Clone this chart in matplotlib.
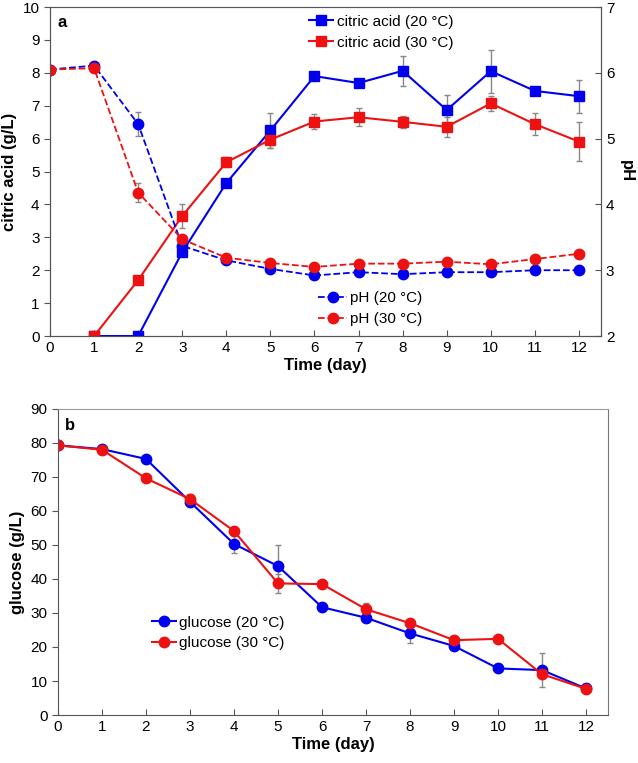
import numpy as np
import matplotlib.pyplot as plt

plt.rcParams['font.family'] = ['Liberation Sans', 'DejaVu Sans']

days = np.arange(0, 13)
days_ca = np.arange(1, 13)

# citric acid (g/L), day 1..12
ca20 = [0, 0, 2.55, 4.65, 6.25, 7.9, 7.69, 8.06, 6.87, 8.05, 7.45, 7.29]
ca20_err = [0, 0, 0, 0.1, 0.54, 0.1, 0, 0.45, 0.46, 0.65, 0, 0.5]
ca30 = [0, 1.7, 3.65, 5.28, 5.97, 6.52, 6.65, 6.51, 6.36, 7.07, 6.44, 5.91]
ca30_err = [0, 0, 0.36, 0.15, 0.25, 0.22, 0.27, 0.18, 0.3, 0.24, 0.34, 0.59]

# pH, day 0..12
ph20 = [6.05, 6.11, 5.22, 3.37, 3.15, 3.02, 2.92, 2.97, 2.94, 2.97, 2.97, 3.0, 3.0]
ph20_err = [0, 0, 0.18, 0, 0, 0, 0, 0, 0, 0, 0, 0, 0]
ph30 = [6.05, 6.07, 4.18, 3.47, 3.19, 3.11, 3.05, 3.10, 3.10, 3.13, 3.09, 3.17, 3.25]
ph30_err = [0, 0, 0.15, 0, 0, 0, 0, 0, 0, 0, 0, 0, 0]

# glucose (g/L), day 0..12
gl20 = [79.3, 78.2, 75.3, 62.7, 50.3, 43.8, 31.7, 28.6, 24.0, 20.3, 13.7, 13.2, 7.8]
gl20_err = [0, 0, 0, 0, 2.8, 6.3, 0, 0, 2.9, 0, 0, 5.0, 0]
gl30 = [79.3, 78.0, 69.6, 63.5, 54.1, 38.7, 38.5, 31.1, 27.0, 22.0, 22.4, 12.0, 7.7]
gl30_err = [0, 0, 0, 1.5, 0, 2.7, 0, 1.7, 0, 0, 0, 0, 0]

labels_ca = ['citric acid (20 °C)', 'citric acid (30 °C)']
labels_ph = ['pH (20 °C)', 'pH (30 °C)']
labels_gl = ['glucose (20 °C)', 'glucose (30 °C)']

blue = '#0000ee'
red = '#ee1111'
ecol = '#888888'
spc = '#555555'

fig = plt.figure(figsize=(6.38, 7.63), dpi=100)

# ---- panel a ----
ax = fig.add_axes([0.0784, 0.5596, 0.8636, 0.4312])
ax2 = ax.twinx()

l1 = ax.errorbar(days_ca, ca20, yerr=ca20_err, color=blue, marker='s', ms=7, lw=1.5,
                 ecolor=ecol, elinewidth=1, capsize=2, zorder=3)
l2 = ax.errorbar(days_ca, ca30, yerr=ca30_err, color=red, marker='s', ms=7, lw=1.5,
                 ecolor=ecol, elinewidth=1, capsize=2, zorder=3)
l3 = ax2.errorbar(days, ph20, yerr=ph20_err, color=blue, marker='o', ms=7.5, lw=1.3, ls='--',
                  ecolor=ecol, elinewidth=1, capsize=2)
l4 = ax2.errorbar(days, ph30, yerr=ph30_err, color=red, marker='o', ms=7.5, lw=1.3, ls='--',
                  ecolor=ecol, elinewidth=1, capsize=2)

ax.set_xlim(0, 12.5)
ax.set_ylim(0, 10)
ax2.set_ylim(2, 7)
ax.set_xticks(range(0, 13))
ax.set_yticks(range(0, 11))
ax2.set_yticks(range(2, 8))
ax.set_xlabel('Time (day)', fontsize=12, fontweight='bold', labelpad=2)
ax.set_ylabel('citric acid (g/L)', fontsize=12, fontweight='bold', labelpad=4)
ax2.set_ylabel('pH', fontsize=12, fontweight='bold', rotation=270, labelpad=14)
ax.tick_params(axis='x', direction='in', labelsize=11, length=4, color=spc)
ax.tick_params(axis='y', direction='out', labelsize=11, length=4, color=spc)
ax2.tick_params(axis='y', direction='in', labelsize=11, length=4, color=spc)
for a in (ax, ax2):
    for s in a.spines.values():
        s.set_color(spc)
ax.spines['top'].set_color('#999999')
ax.text(0.013, 0.975, 'a', transform=ax.transAxes, fontsize=12, fontweight='bold', va='top')

ax.legend([l1[0], l2[0]], labels_ca, loc='upper left', bbox_to_anchor=(0.459, 0.995), frameon=False,
          fontsize=11, handlelength=1.6, handletextpad=0.25, labelspacing=0.45, borderaxespad=0)
ax2.legend([l3[0], l4[0]], labels_ph, loc='upper left', bbox_to_anchor=(0.476, 0.155), frameon=False,
           fontsize=11, handlelength=1.9, handletextpad=0.2, labelspacing=0.45, borderaxespad=0)

# ---- panel b ----
bx = fig.add_axes([0.0909, 0.0629, 0.8621, 0.4011])
g1 = bx.errorbar(days, gl20, yerr=gl20_err, color=blue, marker='o', ms=7.5, lw=1.5,
                 ecolor=ecol, elinewidth=1, capsize=2)
g2 = bx.errorbar(days, gl30, yerr=gl30_err, color=red, marker='o', ms=7.5, lw=1.5,
                 ecolor=ecol, elinewidth=1, capsize=2)
bx.set_xlim(0, 12.5)
bx.set_ylim(0, 90)
bx.set_xticks(range(0, 13))
bx.set_yticks(range(0, 91, 10))
bx.set_xlabel('Time (day)', fontsize=12, fontweight='bold', labelpad=2)
bx.set_ylabel('glucose (g/L)', fontsize=12, fontweight='bold', labelpad=4)
bx.tick_params(axis='x', direction='in', labelsize=11, length=4, color=spc)
bx.tick_params(axis='y', direction='out', labelsize=11, length=4, color=spc)
for s in bx.spines.values():
    s.set_color(spc)
bx.spines['top'].set_color('#999999')
bx.spines['right'].set_color('#777777')
bx.text(0.013, 0.97, 'b', transform=bx.transAxes, fontsize=12, fontweight='bold', va='top')
bx.legend([g1[0], g2[0]], labels_gl, loc='upper left', bbox_to_anchor=(0.159, 0.345), frameon=False,
          fontsize=11, handlelength=1.6, handletextpad=0.2, labelspacing=0.45, borderaxespad=0)

fig.savefig('out.png', dpi=100)
